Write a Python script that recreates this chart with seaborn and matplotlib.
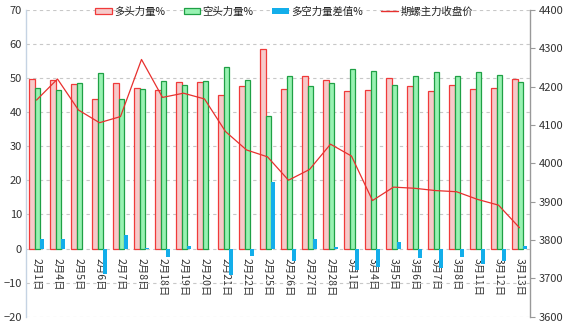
import numpy as np
import pandas as pd
import matplotlib
matplotlib.use("Agg")
import matplotlib.pyplot as plt
import seaborn as sns
from matplotlib.patches import Patch
from matplotlib.lines import Line2D

dates = ["2月1日", "2月4日", "2月5日", "2月6日", "2月7日", "2月8日", "2月18日", "2月19日",
         "2月20日", "2月21日", "2月22日", "2月25日", "2月26日", "2月27日", "2月28日", "3月1日",
         "3月4日", "3月5日", "3月6日", "3月7日", "3月8日", "3月11日", "3月12日", "3月13日"]
long_pct = [49.8, 49.5, 48.3, 43.9, 48.5, 47.2, 46.6, 48.9, 48.8, 45.2, 47.7, 58.5,
            46.9, 50.7, 49.4, 46.1, 46.6, 50.0, 47.7, 46.1, 47.9, 46.8, 47.1, 49.7]
short_pct = [47.1, 46.5, 48.5, 51.5, 43.9, 46.9, 49.3, 48.0, 49.1, 53.2, 49.4, 38.9,
             50.6, 47.7, 48.5, 52.6, 52.2, 48.0, 50.6, 51.8, 50.6, 51.8, 50.9, 48.8]
diff_pct = [2.7, 2.9, -0.2, -7.6, 4.1, 0.3, -2.5, 0.8, -0.2, -7.9, -2.1, 19.5,
            -3.7, 2.9, 0.5, -6.2, -5.4, 1.8, -2.8, -5.7, -2.5, -4.6, -3.7, 0.8]
price = [4165, 4220, 4139, 4106, 4122, 4271, 4172, 4183, 4168, 4083, 4035, 4017,
         3956, 3984, 4050, 4019, 3903, 3938, 3935, 3929, 3926, 3906, 3891, 3832]
left_ticks = [70, 60, 50, 40, 30, 20, 10, 0, -10, -20]
right_ticks = [4400, 4300, 4200, 4100, 4000, 3900, 3800, 3700, 3600]
series_names = ["多头力量%", "空头力量%", "多空力量差值%", "期螺主力收盘价"]

sns.set_style("white")
plt.rcParams["font.family"] = ["Noto Sans CJK SC", "DejaVu Sans"]

idx = np.arange(len(dates))
df = pd.DataFrame({"i": idx, "long": long_pct, "short": short_pct,
                   "diff": diff_pct, "price": price})

fig = plt.figure(figsize=(5.68, 3.3), dpi=100)
ax = fig.add_axes([26 / 568, 1 - 316.7 / 330, (530 - 26) / 568, (316.7 - 10) / 330])

red_edge = "#F03A3A"
red_fill = "#F6CACA"
green_edge = "#1FA045"
green_fill = "#98F2B2"
blue = "#13AEEA"
line_red = "#E8302E"

sns.barplot(data=df.assign(x=df["i"] - 0.205), x="x", y="long", native_scale=True,
            width=0.26, color=red_fill, edgecolor=red_edge, linewidth=0.9,
            saturation=1, errorbar=None, ax=ax)
sns.barplot(data=df.assign(x=df["i"] + 0.035), x="x", y="short", native_scale=True,
            width=0.25, color=green_fill, edgecolor=green_edge, linewidth=0.9,
            saturation=1, errorbar=None, ax=ax)
sns.barplot(data=df.assign(x=df["i"] + 0.245), x="x", y="diff", native_scale=True,
            width=0.19, color=blue, edgecolor="none", linewidth=0,
            saturation=1, errorbar=None, ax=ax)

ax.set_ylim(-20, 70)
ax.set_yticks(left_ticks)
ax.set_xlabel("")
ax.set_ylabel("")
ax.tick_params(axis="y", length=0, pad=3, labelsize=8, labelcolor="#333333")
ax.yaxis.grid(True, linestyle=(0, (3, 3)), color="#C8C8C8", linewidth=0.8)
ax.xaxis.grid(False)
ax.set_axisbelow(True)
ax.spines["bottom"].set_position(("data", 0))
ax.spines["bottom"].set_visible(False)
ax.spines["top"].set_visible(False)
ax.spines["right"].set_visible(False)
ax.spines["left"].set_color("#C5D3E3")
ax.spines["left"].set_linewidth(1.0)

ax2 = ax.twinx()
sns.lineplot(data=df, x="i", y="price", color=line_red, linewidth=0.9, ax=ax2)
ax2.set_ylim(3600, 4400)
ax2.set_yticks(right_ticks)
ax2.set_ylabel("")
ax2.set_xlabel("")
ax2.tick_params(axis="y", length=3.5, width=0.8, color="#999999", pad=3,
                labelsize=8, labelcolor="#333333")
for s in ["top", "bottom", "left"]:
    ax2.spines[s].set_visible(False)
ax2.spines["right"].set_color("#999999")
ax2.spines["right"].set_linewidth(1.0)

ax.set_xlim(-0.5, len(dates) - 0.5)
ax.set_xticks(idx)
ax.set_xticklabels(dates)
ax.tick_params(axis="x", length=0, pad=7, labelrotation=-90, labelsize=7.5,
               labelcolor="#333333")
for t in ax.get_xticklabels():
    t.set_rotation(-90)
    t.set_va("top")
    t.set_ha("center")

handles = [
    Patch(facecolor=red_fill, edgecolor=red_edge, linewidth=0.9),
    Patch(facecolor=green_fill, edgecolor=green_edge, linewidth=0.9),
    Patch(facecolor=blue, edgecolor="none"),
    Line2D([0], [0], color=line_red, linewidth=1.0),
]
fig.legend(handles, series_names, loc="upper center", bbox_to_anchor=(0.5, 1.0),
           ncol=4, frameon=False, fontsize=7.5, handlelength=1.6, handleheight=0.6,
           handletextpad=0.2, columnspacing=1.8, borderaxespad=0.2,
           labelcolor="#222222")

fig.savefig("out.png", dpi=100)
